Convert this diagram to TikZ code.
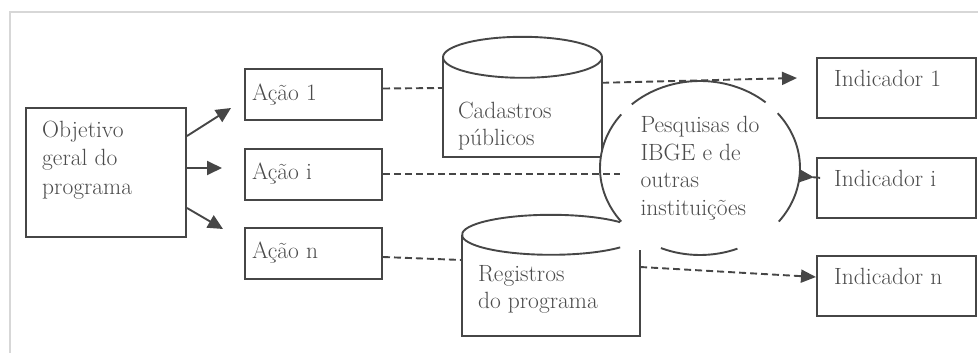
\documentclass[tikz,border=0pt]{standalone}
\usetikzlibrary{arrows.meta,shapes.geometric}
\definecolor{linegray}{RGB}{70,70,70}
\definecolor{textgray}{RGB}{75,75,75}
\definecolor{framegray}{RGB}{215,215,215}

\begin{document}
\begin{tikzpicture}[
  x=1pt, y=-1pt,
  box/.style={draw=linegray, line width=2pt, inner sep=0pt},
  actbox/.style={box, minimum width=137pt, minimum height=51pt},
  indbox/.style={box, minimum width=159pt, minimum height=60pt},
  store/.style={inner sep=0pt},
  txt/.style={inner sep=0pt, align=left,
    font=\fontsize{23.5}{27.5}\selectfont, text=textgray},
  line/.style={draw=linegray, line width=1.9pt},
  arrow/.style={line, -{Triangle[length=15pt,width=14pt]}},
  dline/.style={line, dash pattern=on 7pt off 4pt},
  darrow/.style={dline, -{Triangle[length=15pt,width=13pt]}}
]

% frame
\useasboundingbox (0,0) rectangle (978,353);
\draw[framegray, line width=1.5pt] (10,353) -- (10,12) -- (978,12);

% objective and actions
\node[box, minimum width=160pt, minimum height=129pt] (obj) at (106,172.5) {};
\node[txt, anchor=north west, font=\fontsize{23.5}{28.5}\selectfont] (obj-t)
  at ([xshift=17pt,yshift=-13.7pt]obj.north west) {Objetivo\\geral do\\programa};

\node[actbox] (act1) at (313.5,94.5) {};
\node[actbox] (acti) at (313.5,174) {};
\node[actbox] (actn) at (313.5,253.5) {};
\node[txt, anchor=base west] (act1-t) at ([xshift=8pt,yshift=-5.5pt]act1.west) {Ação 1};
\node[txt, anchor=base west] (acti-t) at ([xshift=8pt,yshift=-5.5pt]acti.west) {Ação i};
\node[txt, anchor=base west] (actn-t) at ([xshift=8pt,yshift=-4.5pt]actn.west) {Ação n};

\draw[arrow] ([yshift=-29pt]obj.north east) -- ([xshift=-13pt,yshift=-13.5pt]act1.west);
\draw[arrow] ([yshift=4.5pt]obj.east) -- ([xshift=-22pt,yshift=6pt]acti.west);
\draw[arrow] ([yshift=-35.5pt]obj.east) -- ([xshift=-21pt,yshift=24.5pt]actn.west);

% data sources
\node[store, minimum width=159pt, minimum height=120pt] (cad) at (522.5,97) {};
\draw[line] ([yshift=-20.5pt]cad.north west) -- (cad.south west)
  -- (cad.south east) -- ([yshift=-20.5pt]cad.north east);
\draw[line] ([yshift=-20.5pt]cad.north) ellipse [x radius=79.5pt, y radius=20.5pt];
\node[txt, anchor=north west] (cad-t)
  at ([xshift=15pt,yshift=-64.7pt]cad.north west) {Cadastros\\públicos};

\node[store, minimum width=178pt, minimum height=121pt] (reg) at (551,275.5) {};
\draw[line] ([shift={(39:89pt and 20pt)},yshift=-20pt]reg.north)
  arc[start angle=39, end angle=321, x radius=89pt, y radius=20pt];
\draw[line] ([yshift=-20pt]reg.north west) -- (reg.south west)
  -- (reg.south east) -- ([yshift=-35pt]reg.north east);
\node[txt, anchor=north west] (reg-t)
  at ([xshift=16pt,yshift=-50.4pt]reg.north west) {Registros\\do programa};

\node[txt, ellipse, fill=white, minimum width=200pt, minimum height=174pt] (pesq)
  at (700,168) {Pesquisas do\\IBGE e de\\outras\\instituições};
\foreach \a/\b in {49/133, 142/218, 247/292, -38/39}
  \draw[line] ([shift={(\a:100pt and 87pt)}]pesq.center)
    arc[start angle=\a, end angle=\b, x radius=100pt, y radius=87pt];

% indicators
\node[indbox] (ind1) at (896.5,88) {};
\node[indbox] (indi) at (896.5,187.5) {};
\node[indbox] (indn) at (896.5,286) {};
\node[txt, anchor=base west] (ind1-t) at ([xshift=18pt,yshift=-29.5pt]ind1.north west) {Indicador 1};
\node[txt, anchor=base west] (indi-t) at ([xshift=18pt,yshift=-29.5pt]indi.north west) {Indicador i};
\node[txt, anchor=base west] (indn-t) at ([xshift=18pt,yshift=-29.5pt]indn.north west) {Indicador n};

% dashed links
\draw[dline] ([yshift=6pt]act1.east) -- ([yshift=9pt]cad.west);
\draw[darrow] ([yshift=-46pt]cad.north east) -- ([xshift=-19pt,yshift=10pt]ind1.west);
\draw[dline, shorten >=-20pt] (acti.east) -- (acti.east -| pesq.west);
\draw[darrow, shorten <=-20pt, shorten >=2pt] ([yshift=-8pt]pesq.east) -- ([yshift=10pt]indi.west);
\draw[dline] ([yshift=-3.5pt]actn.east) -- ([yshift=15.5pt]reg.west);
\draw[darrow] ([yshift=8.5pt]reg.east) -- ([yshift=9pt]indn.west);

\end{tikzpicture}
\end{document}
